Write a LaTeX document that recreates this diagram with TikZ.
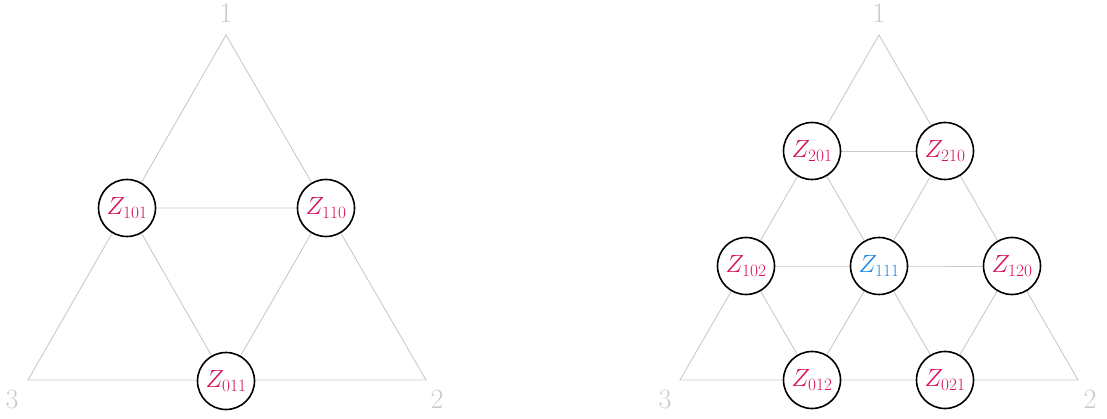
\documentclass[tikz,border=0pt]{standalone}
\definecolor{zred}{HTML}{D6125E}
\definecolor{zblue}{HTML}{1E88E5}
\definecolor{lgray}{HTML}{CACACA}
\begin{document}
\begin{tikzpicture}[x=1pt,y=-1pt,
  zn/.style={circle,draw=black,line width=1.6pt,fill=white,minimum size=57pt,inner sep=0pt,font=\fontsize{23}{26}\selectfont},
  edge/.style={draw=lgray,line width=0.9pt},
  corner/.style={text=lgray,font=\fontsize{28}{30}\selectfont,inner sep=0pt}]
\useasboundingbox (0,0) rectangle (1107,419);
% left triangle
\coordinate (A1) at (226,35);
\coordinate (A3) at (28,380);
\coordinate (A2) at (426,380);
\draw[edge] (A1) -- (A2) -- (A3) -- cycle;
\node[corner] (l1) at (226,13) {1};
\node[corner] (l3) at (12,399) {3};
\node[corner] (l2) at (437,399) {2};
\coordinate (p101) at (127,208);
\coordinate (p110) at (326,208);
\coordinate (p011) at (226,381);
\draw[edge] (p101) -- (p110) -- (p011) -- cycle;
\node[zn,text=zred] (z101) at (p101) {$Z_{101}$};
\node[zn,text=zred] (z110) at (p110) {$Z_{110}$};
\node[zn,text=zred] (z011) at (p011) {$Z_{011}$};
% right triangle
\coordinate (B1) at (879,35);
\coordinate (B3) at (680,380);
\coordinate (B2) at (1078,380);
\draw[edge] (B1) -- (B2) -- (B3) -- cycle;
\node[corner] (r1) at (879,13) {1};
\node[corner] (r3) at (665,399) {3};
\node[corner] (r2) at (1090,399) {2};
\coordinate (q201) at (812,151);
\coordinate (q210) at (945,151);
\coordinate (q102) at (746,266);
\coordinate (q111) at (879,266);
\coordinate (q120) at (1012,266);
\coordinate (q012) at (812,380);
\coordinate (q021) at (945,380);
\draw[edge] (q201) -- (q210);
\draw[edge] (q102) -- (q111) -- (q120);
\draw[edge] (q201) -- (q111) -- (q021);
\draw[edge] (q210) -- (q111) -- (q012);
\draw[edge] (q120) -- (q021);
\draw[edge] (q102) -- (q012);
\node[zn,text=zred] (z201) at (q201) {$Z_{201}$};
\node[zn,text=zred] (z210) at (q210) {$Z_{210}$};
\node[zn,text=zred] (z102) at (q102) {$Z_{102}$};
\node[zn,text=zblue] (z111) at (q111) {$Z_{111}$};
\node[zn,text=zred] (z120) at (q120) {$Z_{120}$};
\node[zn,text=zred] (z012) at (q012) {$Z_{012}$};
\node[zn,text=zred] (z021) at (q021) {$Z_{021}$};
\end{tikzpicture}
\end{document}
